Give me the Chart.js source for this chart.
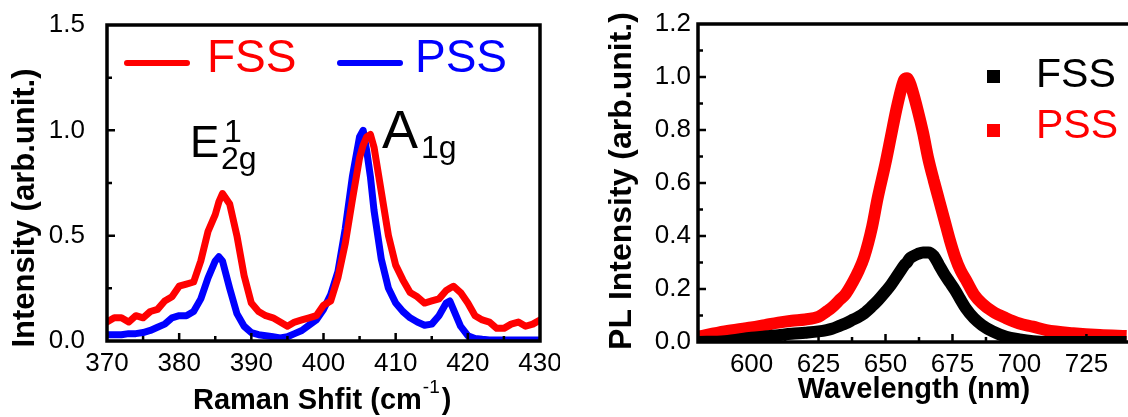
<!DOCTYPE html>
<html>
<head>
<meta charset="utf-8">
<script src="https://cdn.jsdelivr.net/npm/chart.js@4.4.0/dist/chart.umd.min.js"></script>
<style>
html, body { margin: 0; padding: 0; background: #fff; overflow: hidden; width: 1128px; height: 417px; }
#ramanBox { position: absolute; left: 0; top: 0; width: 560px; height: 417px; }
#plBox { position: absolute; left: 560px; top: 0; width: 600px; height: 417px; }
</style>
</head>
<body>
<div id="ramanBox"><canvas id="ramanChart" width="560" height="417"></canvas></div>
<div id="plBox"><canvas id="plChart" width="600" height="417"></canvas></div>
<script>
const FONT = "'Liberation Sans', Arial, Helvetica, sans-serif";

// Raman spectra (left panel)
const ramanShift = [370, 371, 372, 373, 374, 375, 376, 377, 378, 379, 380, 381, 382, 383, 384, 385, 385.5, 386, 387, 388, 389,
    390, 391, 392, 393, 394, 395, 396, 397, 398, 399, 400, 401, 402, 403, 404, 405, 405.5, 406, 406.5, 407, 408, 409,
    410, 411, 412, 413, 414, 415, 416, 417, 417.5, 418, 419, 420, 421, 422, 423, 424, 425, 426, 427, 428, 429, 430];
const ramanFSS = [0.09, 0.11, 0.11, 0.09, 0.12, 0.11, 0.14, 0.15, 0.19, 0.21, 0.26, 0.27, 0.28, 0.38, 0.52, 0.60, 0.66, 0.70, 0.65, 0.50, 0.31,
    0.18, 0.14, 0.12, 0.11, 0.09, 0.07, 0.09, 0.10, 0.11, 0.12, 0.17, 0.19, 0.30, 0.46, 0.67, 0.87, 0.93, 0.97, 0.98, 0.92, 0.71, 0.50,
    0.36, 0.29, 0.23, 0.21, 0.18, 0.19, 0.20, 0.24, 0.25, 0.26, 0.23, 0.18, 0.12, 0.10, 0.09, 0.06, 0.06, 0.08, 0.09, 0.07, 0.08, 0.10];
const ramanPSS = [0.03, 0.03, 0.03, 0.035, 0.035, 0.04, 0.05, 0.065, 0.08, 0.11, 0.12, 0.12, 0.14, 0.20, 0.30, 0.38, 0.40, 0.38, 0.25, 0.13, 0.07,
    0.04, 0.03, 0.025, 0.02, 0.015, 0.02, 0.035, 0.05, 0.075, 0.10, 0.15, 0.22, 0.33, 0.53, 0.78, 0.97, 1.00, 0.90, 0.78, 0.62, 0.39, 0.25,
    0.18, 0.14, 0.11, 0.09, 0.075, 0.08, 0.12, 0.18, 0.19, 0.15, 0.07, 0.025, 0.012, 0.008, 0.005, 0.005, 0.005, 0.005, 0.005, 0.005, 0.005, 0.005];
const ramanXTicks = [370, 380, 390, 400, 410, 420, 430];
const ramanYTicks = [0, 0.5, 1.0, 1.5];

// PL spectra (right panel)
const wavelength = [580, 590, 600, 605, 610, 615, 620, 625, 628, 630, 633, 635, 638, 640, 642, 645, 647, 650, 652, 654, 656, 657, 658, 659,
    660, 662, 664, 666, 668, 670, 672, 674, 676, 678, 680, 683, 686, 690, 695, 700, 705, 710, 720, 730, 740];
const plFSS = [0.0, 0.003, 0.016, 0.021, 0.026, 0.031, 0.035, 0.04, 0.045, 0.05, 0.062, 0.07, 0.085, 0.095, 0.108, 0.135, 0.155, 0.19, 0.215, 0.245, 0.275, 0.29, 0.30, 0.315,
    0.322, 0.332, 0.338, 0.338, 0.325, 0.29, 0.255, 0.225, 0.195, 0.16, 0.127, 0.09, 0.064, 0.04, 0.02, 0.01, 0.003, 0.0, 0.0, 0.0, 0.0];
const plPSS = [0.02, 0.04, 0.055, 0.064, 0.073, 0.08, 0.085, 0.095, 0.115, 0.13, 0.16, 0.18, 0.23, 0.27, 0.32, 0.435, 0.54, 0.675, 0.775, 0.875, 0.96, 0.99, 0.995, 0.98,
    0.95, 0.875, 0.79, 0.69, 0.61, 0.535, 0.46, 0.385, 0.32, 0.27, 0.235, 0.18, 0.146, 0.115, 0.09, 0.07, 0.058, 0.045, 0.033, 0.026, 0.023];
const plXTicks = [600, 625, 650, 675, 700, 725];
const plYTicks = [0, 0.2, 0.4, 0.6, 0.8, 1.0, 1.2];

function points(xs, ys) {
    return xs.map((x, i) => ({ x: x, y: ys[i] }));
}

// inward ticks (major + one minor in between) and the box frame
function drawFrame(chart, xTicks, yTicks) {
    const ctx = chart.ctx, a = chart.chartArea, sx = chart.scales.x, sy = chart.scales.y;
    const xs = xTicks[1] - xTicks[0], ys = yTicks[1] - yTicks[0];
    ctx.save();
    ctx.strokeStyle = "#000";
    ctx.lineWidth = 2.5;
    ctx.beginPath();
    for (let v = xTicks[0] - xs; v <= sx.max; v += xs / 2) {
        const px = sx.getPixelForValue(v);
        if (px <= a.left + 2 || px >= a.right - 2) continue;
        const major = xTicks.some(t => Math.abs(t - v) < 1e-6);
        ctx.moveTo(px, a.bottom);
        ctx.lineTo(px, a.bottom - (major ? 8 : 5));
    }
    for (let v = yTicks[0]; v <= sy.max; v += ys / 2) {
        const py = sy.getPixelForValue(v);
        if (py <= a.top + 2 || py >= a.bottom - 2) continue;
        const major = yTicks.some(t => Math.abs(t - v) < 1e-6);
        ctx.moveTo(a.left, py);
        ctx.lineTo(a.left + (major ? 8 : 5), py);
    }
    ctx.stroke();
    ctx.lineWidth = 3.5;
    ctx.strokeRect(a.left, a.top, a.right - a.left, a.bottom - a.top);
    ctx.restore();
}

function rotatedText(ctx, text, cx, cy, font) {
    ctx.save();
    ctx.translate(cx, cy);
    ctx.rotate(-Math.PI / 2);
    ctx.font = font;
    ctx.textAlign = "center";
    ctx.textBaseline = "middle";
    ctx.fillStyle = "#000";
    ctx.fillText(text, 0, 0);
    ctx.restore();
}

// axis with fixed ticks; its size is fixed and label overflow does not push the plot area
function fixedScale(min, max, ticks, padding, fmt, size, vertical) {
    return {
        type: "linear",
        min: min,
        max: max,
        afterBuildTicks: s => { s.ticks = ticks.map(v => ({ value: v })); },
        afterFit: s => {
            if (vertical) s.width = size; else s.height = size;
            s.paddingTop = 0; s.paddingBottom = 0; s.paddingLeft = 0; s.paddingRight = 0;
        },
        grid: { display: false, drawTicks: false },
        border: { display: false },
        ticks: {
            font: { family: FONT, size: 26 },
            color: "#000",
            padding: padding,
            maxRotation: 0,
            autoSkip: false,
            callback: fmt
        }
    };
}

const ramanDecor = {
    id: "ramanDecor",
    afterDatasetsDraw(chart) {
        const ctx = chart.ctx, sx = chart.scales.x, sy = chart.scales.y;
        drawFrame(chart, ramanXTicks, ramanYTicks);
        ctx.save();
        ctx.fillStyle = "#000";
        ctx.textBaseline = "alphabetic";
        ctx.textAlign = "left";

        // peak labels
        const ex = sx.getPixelForValue(381.5), ey = sy.getPixelForValue(0.873);
        ctx.font = "44px " + FONT;
        ctx.fillText("E", ex, ey);
        ctx.font = "32px " + FONT;
        ctx.fillText("1", ex + 34, ey - 15);
        ctx.fillText("2g", ex + 31, ey + 12);
        const ax = sx.getPixelForValue(408.1), ay = sy.getPixelForValue(0.916);
        ctx.font = "54px " + FONT;
        ctx.fillText("A", ax, ay);
        ctx.font = "32px " + FONT;
        ctx.fillText("1g", ax + 39, ay + 10);

        // legend
        const ds = chart.data.datasets;
        const items = [[127, 207], [340, 415]];
        items.forEach((it, i) => {
            ctx.strokeStyle = ds[i].borderColor;
            ctx.lineWidth = 6;
            ctx.lineCap = "round";
            ctx.beginPath();
            ctx.moveTo(it[0], 63);
            ctx.lineTo(it[0] + 60, 63);
            ctx.stroke();
            ctx.fillStyle = ds[i].borderColor;
            ctx.font = "46px " + FONT;
            ctx.fillText(ds[i].label, it[1], 72);
        });

        // axis titles
        ctx.fillStyle = "#000";
        const base = "Raman Shfit (cm";
        ctx.font = "bold 29px " + FONT;
        ctx.fillText(base, 193, 409);
        let tx = 193 + ctx.measureText(base).width + 1;
        ctx.font = "19px " + FONT;
        ctx.fillText("-1", tx, 393);
        tx += ctx.measureText("-1").width + 2;
        ctx.font = "bold 29px " + FONT;
        ctx.fillText(")", tx, 409);
        ctx.restore();
        rotatedText(ctx, "Intensity (arb.unit.)", 25, 208, "bold 31px " + FONT);
    }
};

const plDecor = {
    id: "plDecor",
    afterDatasetsDraw(chart) {
        const ctx = chart.ctx;
        drawFrame(chart, plXTicks, plYTicks);
        ctx.save();
        const ds = chart.data.datasets;
        const rows = [[70, 87], [124, 138]];
        rows.forEach((r, i) => {
            ctx.fillStyle = ds[i].borderColor;
            ctx.fillRect(427, r[0], 13, 13);
            ctx.font = "41px " + FONT;
            ctx.textAlign = "left";
            ctx.textBaseline = "alphabetic";
            ctx.fillText(ds[i].label, 476, r[1]);
        });
        ctx.fillStyle = "#000";
        ctx.font = "bold 29px " + FONT;
        ctx.textAlign = "center";
        ctx.fillText("Wavelength (nm)", 354, 398);
        ctx.restore();
        rotatedText(ctx, "PL Intensity (arb.unit.)", 62, 181, "bold 32px " + FONT);
    }
};

new Chart(document.getElementById("ramanChart"), {
    type: "line",
    data: {
        datasets: [
            { label: "FSS", data: points(ramanShift, ramanFSS), borderColor: "#ff0000", borderWidth: 7 },
            { label: "PSS", data: points(ramanShift, ramanPSS), borderColor: "#0000ff", borderWidth: 7 }
        ]
    },
    options: {
        responsive: false,
        animation: false,
        events: [],
        layout: { padding: { top: 25, right: 20, left: 0, bottom: 0 } },
        elements: {
            point: { radius: 0 },
            line: { tension: 0, borderJoinStyle: "round", borderCapStyle: "round" }
        },
        scales: {
            x: fixedScale(370, 430, ramanXTicks, 7, v => v, 76, false),
            y: fixedScale(0, 1.5, ramanYTicks, 22, v => v.toFixed(1), 107, true)
        },
        plugins: { legend: { display: false }, tooltip: { enabled: false } }
    },
    plugins: [ramanDecor]
});

new Chart(document.getElementById("plChart"), {
    type: "line",
    data: {
        datasets: [
            { label: "FSS", data: points(wavelength, plFSS), borderColor: "#000000", borderWidth: 12 },
            { label: "PSS", data: points(wavelength, plPSS), borderColor: "#ff0000", borderWidth: 12 }
        ]
    },
    options: {
        responsive: false,
        animation: false,
        events: [],
        layout: { padding: { top: 24, right: 20, left: 0, bottom: 0 } },
        elements: {
            point: { radius: 0 },
            line: { cubicInterpolationMode: "monotone", borderJoinStyle: "bevel", borderCapStyle: "butt" }
        },
        scales: {
            x: fixedScale(580, 745, plXTicks, 7, v => v, 75, false),
            y: fixedScale(0, 1.2, plYTicks, 7, v => v.toFixed(1), 138, true)
        },
        plugins: { legend: { display: false }, tooltip: { enabled: false } }
    },
    plugins: [plDecor]
});
</script>
</body>
</html>
